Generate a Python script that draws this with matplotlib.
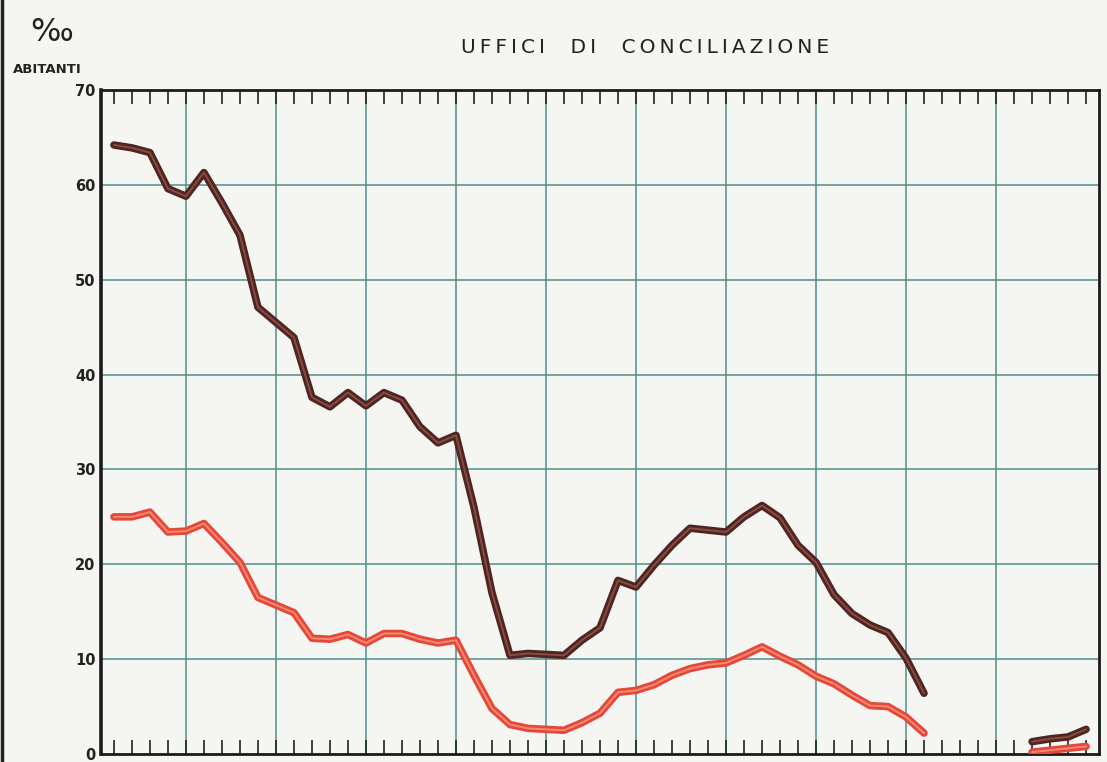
import numpy as np
import matplotlib
matplotlib.use('Agg')
import matplotlib.pyplot as plt
import matplotlib.patheffects as pe
from matplotlib.lines import Line2D

# years and values (per thousand inhabitants)
years_a = list(range(1881, 1927))
dark_a = [64.2, 63.9, 63.4, 59.6, 58.8, 61.3, 58.1, 54.7, 47.1, 45.5,
          43.9, 37.6, 36.6, 38.1, 36.7, 38.1, 37.3, 34.5, 32.8, 33.6,
          26.0, 17.0, 10.4, 10.6, 10.5, 10.4, 12.0, 13.3, 18.3, 17.6,
          19.9, 22.0, 23.8, 23.6, 23.4, 25.0, 26.2, 24.9, 22.0, 20.2,
          16.8, 14.8, 13.6, 12.8, 10.1, 6.4]
red_a = [25.0, 25.0, 25.5, 23.4, 23.5, 24.3, 22.3, 20.2, 16.5, 15.7,
         14.9, 12.2, 12.1, 12.6, 11.7, 12.7, 12.7, 12.1, 11.7, 12.0,
         8.3, 4.8, 3.1, 2.7, 2.6, 2.5, 3.3, 4.3, 6.5, 6.7,
         7.3, 8.3, 9.0, 9.4, 9.6, 10.4, 11.3, 10.3, 9.4, 8.2,
         7.4, 6.2, 5.1, 5.0, 3.9, 2.2]

years_b = [1932, 1933, 1934, 1935]
dark_b = [1.3, 1.6, 1.8, 2.6]
red_b = [0.2, 0.4, 0.6, 0.8]

grid_years = list(range(1885, 1931, 5))
y_ticks = [0, 10, 20, 30, 40, 50, 60, 70]

bg = '#f5f5f2'
grid_col = '#4f8f8c'
dark_col = '#4e2521'
dark_in = '#8a4b42'
red_col = '#e4483a'
red_in = '#f58a70'

fig = plt.figure(figsize=(11.07, 7.62), dpi=100, facecolor=bg)
ax = fig.add_axes([0.0912, 0.0105, 0.9016, 0.8714], facecolor=bg)

ax.set_xlim(1880.28, 1935.72)
ax.set_ylim(0, 70)

# grid
for gy in grid_years:
    ax.axvline(gy, color=grid_col, lw=1.1, zorder=1)
for yt in y_ticks[1:-1]:
    ax.axhline(yt, color=grid_col, lw=1.1, zorder=1)

def draw(x, y, outer, inner):
    ln, = ax.plot(x, y, color=inner, lw=1.4, zorder=3,
                  solid_capstyle='round', solid_joinstyle='round')
    ln.set_path_effects([pe.Stroke(linewidth=5.4, foreground=outer,
                                   capstyle='round', joinstyle='round'),
                         pe.Normal()])

draw(years_a, dark_a, dark_col, dark_in)
draw(years_a, red_a, red_col, red_in)
draw(years_b, dark_b, dark_col, dark_in)
draw(years_b, red_b, red_col, red_in)

# year ticks on top and bottom, pointing inside
ax.set_xticks(range(1881, 1936))
ax.tick_params(axis='x', direction='in', length=10, width=1.2, color='#222222',
               top=True, bottom=True, labelbottom=False, labeltop=False)
ax.set_yticks(y_ticks)
ax.set_yticklabels([str(v) for v in y_ticks], fontsize=10.5, fontweight='bold')
ax.tick_params(axis='y', length=0, pad=4, labelcolor='#222222')

for side in ['left', 'bottom', 'top', 'right']:
    ax.spines[side].set_color('#1a1a1a')
    ax.spines[side].set_linewidth(2)
ax.spines['left'].set_linewidth(2.6)

title = '\u2009'.join('UFFICI') + '    ' + '\u2009'.join('DI') + '    ' + '\u2009'.join('CONCILIAZIONE')
fig.text(0.583, 0.938, title, ha='center', va='center',
         fontsize=14.5, color='#222222')
fig.text(0.047, 0.958, '‰', ha='center', va='center', fontsize=23, color='#222222')
fig.text(0.043, 0.909, 'ABITANTI', ha='center', va='center', fontsize=9.5,
         fontweight='bold', color='#222222')

fig.add_artist(Line2D([0.0015, 0.0015], [0, 1], color='#222222', lw=2.5))

fig.savefig('out.png', dpi=100, facecolor=bg)
